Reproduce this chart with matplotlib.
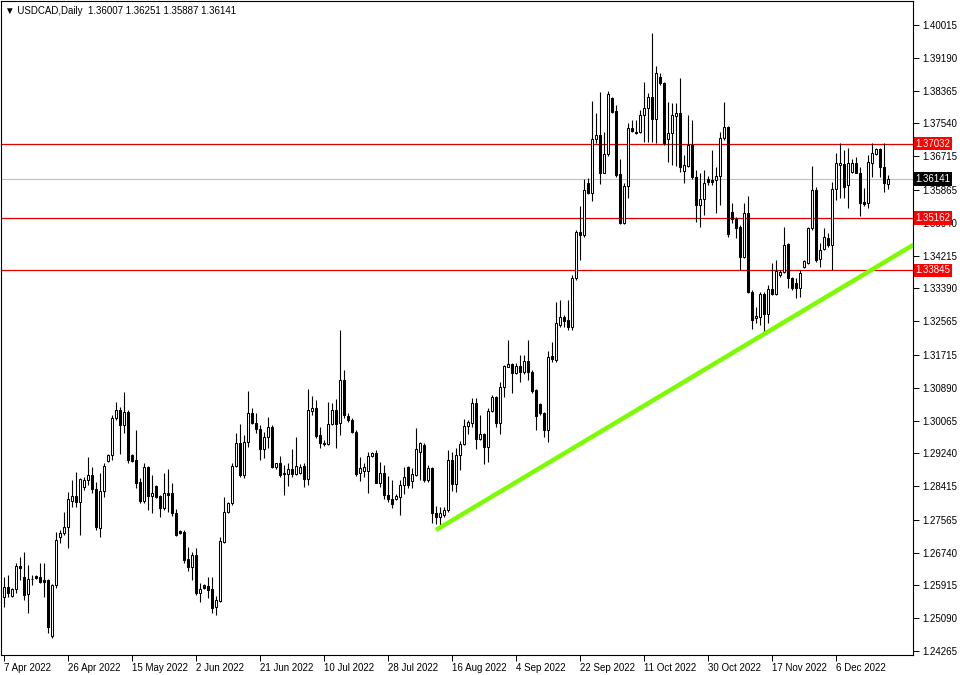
import matplotlib
matplotlib.use('Agg')
import matplotlib.pyplot as plt
import numpy as np

plt.rcParams['font.family'] = ['Liberation Sans', 'DejaVu Sans']

# Daily USDCAD bars (one bar per trading day incl. Sundays)
opens = [
    1.25633, 1.25885, 1.25650, 1.25818, 1.26405, 1.26120, 1.25692, 1.26069, 1.26145, 1.26136,
    1.26053, 1.26053, 1.24644, 1.25927, 1.27143, 1.27226, 1.27377, 1.28048, 1.28166, 1.28023,
    1.28384, 1.28568, 1.28702, 1.28333, 1.27369, 1.28292, 1.29046, 1.29189, 1.30120, 1.30329,
    1.29952, 1.30287, 1.29197, 1.29071, 1.28526, 1.28048, 1.28887, 1.28166, 1.28417, 1.28166,
    1.27872, 1.28233, 1.28233, 1.27747, 1.27294, 1.27268, 1.26581, 1.26371, 1.26682, 1.25717,
    1.25927, 1.25902, 1.25818, 1.25365, 1.25533, 1.27017, 1.27772, 1.27982, 1.28921, 1.29491,
    1.28695, 1.29533, 1.30263, 1.29994, 1.29843, 1.29340, 1.29642, 1.29894, 1.28904, 1.28988,
    1.28737, 1.28720, 1.28837, 1.28720, 1.28737, 1.28921, 1.28586, 1.30313, 1.30372, 1.29701,
    1.29508, 1.29474, 1.29978, 1.30330, 1.29994, 1.31084, 1.30179, 1.30078, 1.29784, 1.28736,
    1.28803, 1.28803, 1.29172, 1.29256, 1.28501, 1.28753, 1.28191, 1.28082, 1.28082, 1.28149,
    1.28443, 1.28904, 1.28552, 1.28694, 1.29281, 1.29449, 1.28568, 1.28862, 1.27747, 1.27629,
    1.27688, 1.27814, 1.29072, 1.28468, 1.29197, 1.29474, 1.29927, 1.29994, 1.30497, 1.29592,
    1.29726, 1.29390, 1.30313, 1.30648, 1.30011, 1.30917, 1.31420, 1.31487, 1.31269, 1.31436,
    1.31294, 1.31571, 1.31294, 1.30833, 1.30480, 1.30262, 1.29826, 1.31688, 1.31587, 1.32468,
    1.32660, 1.32593, 1.32426, 1.33641, 1.34815, 1.34732, 1.36048, 1.35797, 1.37138, 1.37239,
    1.36300, 1.36769, 1.38170, 1.37860, 1.36266, 1.35042, 1.35964, 1.37415, 1.37331, 1.37331,
    1.37750, 1.37918, 1.38195, 1.37642, 1.38698, 1.38564, 1.37139, 1.37290, 1.37726, 1.37793,
    1.36351, 1.36468, 1.36996, 1.36183, 1.35487, 1.35630, 1.36133, 1.36116, 1.36116, 1.36216,
    1.37164, 1.37441, 1.35319, 1.35126, 1.34942, 1.34170, 1.35277, 1.33307, 1.32636, 1.32661,
    1.33248, 1.32745, 1.33365, 1.33248, 1.33726, 1.33810, 1.34506, 1.33642, 1.33516, 1.33391,
    1.33919, 1.34020, 1.34900, 1.35865, 1.34120, 1.34372, 1.34649, 1.34481, 1.35881, 1.36493,
    1.36519, 1.35990, 1.36326, 1.36552, 1.36301, 1.35571, 1.35529, 1.36552, 1.36770, 1.36888,
    1.36435, 1.36007]
highs = [
    1.26136, 1.26178, 1.25843, 1.26472, 1.26640, 1.26765, 1.26430, 1.26178, 1.26178, 1.26472,
    1.26472, 1.26069, 1.25952, 1.27268, 1.27310, 1.27771, 1.28275, 1.28568, 1.28778, 1.28610,
    1.28635, 1.29138, 1.28904, 1.28526, 1.28736, 1.28987, 1.29222, 1.30203, 1.30539, 1.30396,
    1.30774, 1.30329, 1.29222, 1.29826, 1.28610, 1.28987, 1.28920, 1.28694, 1.28442, 1.28191,
    1.28736, 1.28837, 1.28501, 1.27830, 1.27310, 1.27310, 1.26891, 1.26765, 1.26849, 1.25969,
    1.25952, 1.26136, 1.26136, 1.25650, 1.27143, 1.28149, 1.28023, 1.29005, 1.29743, 1.29978,
    1.29701, 1.30816, 1.30372, 1.30246, 1.29952, 1.29785, 1.30162, 1.29952, 1.29005, 1.29173,
    1.28946, 1.29005, 1.29340, 1.29659, 1.28971, 1.28988, 1.30850, 1.30682, 1.30581, 1.29911,
    1.29575, 1.30539, 1.30514, 1.30598, 1.32342, 1.31336, 1.30254, 1.30120, 1.29826, 1.29155,
    1.28988, 1.29281, 1.29281, 1.29323, 1.29030, 1.28946, 1.28669, 1.28568, 1.28216, 1.28568,
    1.28904, 1.28921, 1.28862, 1.29868, 1.29533, 1.29508, 1.28946, 1.28904, 1.27914, 1.27881,
    1.27881, 1.29323, 1.29281, 1.29365, 1.29558, 1.30095, 1.30078, 1.30623, 1.30623, 1.30204,
    1.29760, 1.30371, 1.30707, 1.30682, 1.31042, 1.31462, 1.32091, 1.31520, 1.31503, 1.31713,
    1.31713, 1.32091, 1.31336, 1.30850, 1.30514, 1.30287, 1.31822, 1.32049, 1.33055, 1.33097,
    1.32719, 1.33097, 1.33725, 1.34857, 1.35461, 1.36132, 1.36157, 1.38111, 1.37792, 1.38338,
    1.37331, 1.38363, 1.38195, 1.38002, 1.36635, 1.36031, 1.37558, 1.37625, 1.37625, 1.37876,
    1.38589, 1.38312, 1.39814, 1.38983, 1.38816, 1.38589, 1.38087, 1.38045, 1.38061, 1.38682,
    1.36745, 1.37751, 1.37625, 1.36367, 1.36284, 1.36367, 1.36216, 1.36871, 1.36434, 1.37332,
    1.38087, 1.37474, 1.35529, 1.35193, 1.34984, 1.35529, 1.35713, 1.33349, 1.32929, 1.33307,
    1.33307, 1.33474, 1.34019, 1.34103, 1.33852, 1.34942, 1.34523, 1.33684, 1.33642, 1.33852,
    1.34103, 1.34942, 1.36468, 1.35932, 1.34523, 1.34900, 1.34774, 1.36074, 1.36787, 1.37039,
    1.36871, 1.36913, 1.36636, 1.36703, 1.36452, 1.35906, 1.36745, 1.37039, 1.36913, 1.36913,
    1.37039, 1.36251]
lows = [
    1.25382, 1.25633, 1.25633, 1.25717, 1.26053, 1.25549, 1.25214, 1.25927, 1.26086, 1.25969,
    1.25633, 1.24711, 1.24585, 1.25843, 1.26975, 1.27185, 1.26849, 1.27897, 1.27897, 1.27185,
    1.28317, 1.28442, 1.28233, 1.27310, 1.27126, 1.28132, 1.29029, 1.29071, 1.30078, 1.29222,
    1.29759, 1.28987, 1.29029, 1.28359, 1.27998, 1.27981, 1.27814, 1.27747, 1.28107, 1.27629,
    1.27814, 1.27772, 1.27663, 1.27159, 1.27210, 1.26472, 1.26288, 1.26053, 1.25675, 1.25507,
    1.25818, 1.25591, 1.25214, 1.25172, 1.25507, 1.26975, 1.27747, 1.27940, 1.28904, 1.28636,
    1.28611, 1.29407, 1.29978, 1.29743, 1.29072, 1.29114, 1.29365, 1.28862, 1.28837, 1.28636,
    1.28191, 1.28418, 1.28653, 1.28695, 1.28720, 1.28384, 1.28443, 1.30204, 1.29617, 1.29365,
    1.29424, 1.29449, 1.29952, 1.29365, 1.29701, 1.30128, 1.30028, 1.29759, 1.28669, 1.28552,
    1.28652, 1.28233, 1.29139, 1.28484, 1.28384, 1.28082, 1.28023, 1.27856, 1.28065, 1.27688,
    1.28216, 1.28359, 1.28359, 1.28669, 1.28568, 1.28527, 1.28527, 1.27478, 1.27462, 1.27394,
    1.27646, 1.27772, 1.28300, 1.28275, 1.28820, 1.29449, 1.29726, 1.29910, 1.29340, 1.29575,
    1.28971, 1.29030, 1.30287, 1.29910, 1.29726, 1.30665, 1.31403, 1.30749, 1.31235, 1.31042,
    1.31235, 1.31084, 1.30766, 1.29826, 1.30204, 1.29642, 1.29533, 1.31546, 1.31546, 1.32426,
    1.32426, 1.32342, 1.32342, 1.33599, 1.34103, 1.34673, 1.35763, 1.35596, 1.37038, 1.36015,
    1.36283, 1.36719, 1.37793, 1.36199, 1.35008, 1.35008, 1.35654, 1.37331, 1.37273, 1.37289,
    1.37080, 1.37080, 1.37080, 1.37038, 1.38506, 1.36996, 1.36577, 1.36493, 1.36468, 1.36326,
    1.36049, 1.36434, 1.36133, 1.35068, 1.34942, 1.35235, 1.35990, 1.35990, 1.35294, 1.35487,
    1.37122, 1.34690, 1.35042, 1.34648, 1.33852, 1.34145, 1.33265, 1.32359, 1.32510, 1.32468,
    1.32258, 1.32510, 1.33223, 1.33223, 1.33684, 1.33768, 1.33391, 1.33349, 1.33139, 1.33181,
    1.33894, 1.34003, 1.34858, 1.34061, 1.33936, 1.34355, 1.34439, 1.33852, 1.35613, 1.35655,
    1.35655, 1.35403, 1.36301, 1.36284, 1.35210, 1.35462, 1.35403, 1.36200, 1.36745, 1.36200,
    1.35823, 1.35887]
closes = [
    1.25885, 1.25717, 1.25818, 1.26405, 1.26346, 1.25675, 1.26069, 1.26078, 1.26111, 1.26011,
    1.26011, 1.24878, 1.25927, 1.27059, 1.27226, 1.27394, 1.28082, 1.28166, 1.28023, 1.28585,
    1.28568, 1.28702, 1.28333, 1.27394, 1.28292, 1.28929, 1.29189, 1.30120, 1.30329, 1.29952,
    1.30271, 1.29071, 1.29055, 1.28501, 1.28048, 1.28887, 1.28166, 1.28250, 1.28132, 1.27872,
    1.28233, 1.28191, 1.27747, 1.27185, 1.27226, 1.26556, 1.26371, 1.26682, 1.25717, 1.25818,
    1.25843, 1.25801, 1.25340, 1.25549, 1.27034, 1.27772, 1.27998, 1.28921, 1.29491, 1.28695,
    1.29533, 1.30246, 1.30011, 1.29843, 1.29340, 1.29642, 1.29894, 1.28904, 1.28988, 1.28695,
    1.28711, 1.28837, 1.28720, 1.28921, 1.28904, 1.28586, 1.30330, 1.30372, 1.29676, 1.29508,
    1.29483, 1.29978, 1.30330, 1.29978, 1.31085, 1.30204, 1.30078, 1.29784, 1.28719, 1.28862,
    1.28887, 1.29172, 1.29256, 1.28501, 1.28753, 1.28191, 1.28082, 1.27965, 1.28166, 1.28443,
    1.28652, 1.28443, 1.28719, 1.29340, 1.29491, 1.28568, 1.28862, 1.27730, 1.27629, 1.27747,
    1.27814, 1.29072, 1.28468, 1.29197, 1.29474, 1.29927, 1.30036, 1.30497, 1.29592, 1.29726,
    1.29390, 1.30313, 1.30648, 1.30011, 1.30917, 1.31436, 1.31487, 1.31252, 1.31436, 1.31294,
    1.31571, 1.31294, 1.30816, 1.30179, 1.30246, 1.29826, 1.31671, 1.31604, 1.32510, 1.32660,
    1.32577, 1.32426, 1.33641, 1.34815, 1.34732, 1.35864, 1.35780, 1.37138, 1.37239, 1.36300,
    1.36769, 1.38279, 1.37835, 1.36241, 1.35042, 1.35964, 1.37415, 1.37356, 1.37289, 1.37750,
    1.37918, 1.38195, 1.37642, 1.38799, 1.38547, 1.37038, 1.37307, 1.37751, 1.37793, 1.36434,
    1.36493, 1.36996, 1.36183, 1.35487, 1.35630, 1.36032, 1.36074, 1.36074, 1.36216, 1.37164,
    1.37441, 1.34757, 1.35126, 1.34900, 1.34170, 1.35277, 1.33307, 1.32594, 1.32694, 1.33248,
    1.32745, 1.33365, 1.33248, 1.33835, 1.33810, 1.34481, 1.33642, 1.33391, 1.33391, 1.33768,
    1.34087, 1.34900, 1.35865, 1.34103, 1.34355, 1.34691, 1.34481, 1.35881, 1.36535, 1.36535,
    1.35948, 1.36535, 1.36552, 1.36301, 1.35546, 1.35512, 1.36577, 1.36804, 1.36888, 1.36452,
    1.36032, 1.36141]

# x axis date labels (every 16 bars)
date_idx = [0, 16, 32, 48, 64, 80, 96, 112, 128, 144, 160, 176, 192, 208]
date_labels = ['7 Apr 2022', '26 Apr 2022', '15 May 2022', '2 Jun 2022', '21 Jun 2022',
               '10 Jul 2022', '28 Jul 2022', '16 Aug 2022', '4 Sep 2022', '22 Sep 2022',
               '11 Oct 2022', '30 Oct 2022', '17 Nov 2022', '6 Dec 2022']

# price scale labels
price_ticks = [1.40015, 1.39190, 1.38365, 1.37540, 1.36715, 1.35865, 1.35040, 1.34215,
               1.33390, 1.32565, 1.31715, 1.30890, 1.30065, 1.29240, 1.28415, 1.27565,
               1.26740, 1.25915, 1.25090, 1.24265]

# horizontal levels and current bid
levels = [1.37032, 1.35162, 1.33845]
bid = 1.36141

# trend line anchor points (bar index, price)
trend_x = [108, 229]
trend_y = [1.27311, 1.34584]

o = np.array(opens)
h = np.array(highs)
l = np.array(lows)
c = np.array(closes)
x = np.arange(len(c))

fig = plt.figure(figsize=(9.6, 6.75), dpi=100)
ax = fig.add_axes([1 / 960, 20 / 675, 912 / 960, 654 / 675])

# levels and bid line
for lv in levels:
    ax.axhline(lv, color='#e00000', lw=0.9, zorder=1)
ax.axhline(bid, color='#c0c0c0', lw=0.8, zorder=1)

# wicks
ax.vlines(x, np.minimum(l, np.minimum(o, c)), np.maximum(h, np.maximum(o, c)),
          color='black', lw=0.8, zorder=2)

# bodies
up = c >= o
body_lo = np.minimum(o, c)
body_h = np.abs(c - o)
ax.bar(x[up], body_h[up], bottom=body_lo[up], width=0.5, color='white',
       edgecolor='black', linewidth=0.75, zorder=3)
ax.bar(x[~up], body_h[~up], bottom=body_lo[~up], width=0.5, color='black',
       edgecolor='black', linewidth=0.75, zorder=3)

# trend line
ax.plot(trend_x, trend_y, color='#7cfc00', lw=3.2, solid_capstyle='butt', zorder=4)

ax.set_xlim(-0.75, 227.25)
ax.set_ylim(1.24166, 1.40619)

# axes styling
for s in ax.spines.values():
    s.set_color('black')
    s.set_linewidth(0.8)

ax.yaxis.tick_right()
ax.set_yticks(price_ticks)
ax.set_yticklabels(['%.5f' % v for v in price_ticks])
ax.tick_params(axis='y', direction='out', length=4, width=0.7, labelsize=7, pad=3)

ax.set_xticks(date_idx)
ax.set_xticklabels(date_labels, ha='left')
ax.tick_params(axis='x', direction='out', length=4, width=0.7, labelsize=7, pad=2)

# price tags on the right
ytr = ax.get_yaxis_transform()
for lv in levels:
    ax.text(1.003, lv, '%.5f' % lv, transform=ytr, color='white', fontsize=7,
            va='center', ha='left', clip_on=False, zorder=6,
            bbox=dict(boxstyle='square,pad=0.18', fc='#ff0000', ec='none'))
ax.text(1.003, bid, '%.5f' % bid, transform=ytr, color='white', fontsize=7,
        va='center', ha='left', clip_on=False, zorder=6,
        bbox=dict(boxstyle='square,pad=0.18', fc='black', ec='none'))

# header
ax.text(0.004, 0.992, '\u25bc USDCAD,Daily  %.5f %.5f %.5f %.5f' % (opens[-1], highs[-1], lows[-1], closes[-1]),
        transform=ax.transAxes, fontsize=7, va='top', ha='left')

fig.savefig('out.png', dpi=100, facecolor='white')
